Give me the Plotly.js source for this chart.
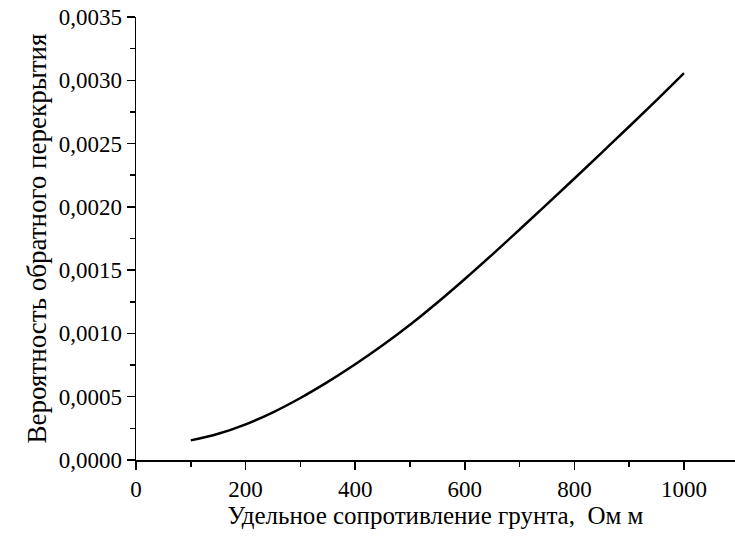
<!DOCTYPE html>
<html>
<head>
<meta charset="utf-8">
<script src="https://cdn.plot.ly/plotly-3.0.1.min.js"></script>
<style>
html,body{margin:0;padding:0;background:#fff;overflow:hidden;}
#chart{position:relative;z-index:1;}
#chart svg text{font-family:"Liberation Serif",serif !important;}
#warm{position:absolute;left:500px;top:300px;z-index:0;font-family:"Liberation Serif";font-size:2px;color:#fff;}
</style>
</head>
<body>
<div id="warm">0,0035 Вероятность</div>
<div id="chart" style="width:735px;height:537px;"></div>
<script>
var resistivity = [100,150,200,250,300,350,400,450,500,550,600,650,700,750,800,850,900,950,1000];
var probability = [0.000155,0.000207,0.000282,0.000377,0.000490,0.000617,0.000756,0.000906,0.001068,0.001244,0.001430,0.001623,0.001821,0.002021,0.002224,0.002429,0.002635,0.002844,0.003056];
var xTickVals = [0,200,400,600,800,1000];
var xTickText = ['0','200','400','600','800','1000'];
var yTickVals = [0,0.0005,0.0010,0.0015,0.0020,0.0025,0.0030,0.0035];
var yTickText = ['0,0000','0,0005','0,0010','0,0015','0,0020','0,0025','0,0030','0,0035'];
var xTitle = 'Удельное сопротивление грунта,  Ом м';
var yTitle = 'Вероятность обратного перекрытия';

var fontFam = 'Liberation Serif';
function draw() {
  var trace = {
    x: resistivity, y: probability, type: 'scatter', mode: 'lines',
    line: {color: '#000', width: 2.5, shape: 'spline'}, showlegend: false, hoverinfo: 'none'
  };
  var layout = {
    width: 735, height: 537,
    margin: {l: 136, r: 0, t: 17, b: 77},
    paper_bgcolor: '#fff', plot_bgcolor: '#fff',
    font: {family: fontFam, color: '#000', size: 23},
    xaxis: {
      range: [0, 1093], showgrid: false, zeroline: false,
      showline: true, linecolor: '#000', linewidth: 1.5,
      ticks: 'outside', ticklen: 8, tickwidth: 1.5, tickcolor: '#000',
      tickvals: xTickVals, ticktext: xTickText,
      minor: {dtick: 100, ticks: 'outside', ticklen: 5, tickwidth: 1.5, tickcolor: '#000', showgrid: false},
      tickfont: {size: 23},
      title: {text: xTitle, font: {size: 25}, standoff: 4}
    },
    yaxis: {
      range: [0, 0.0035], showgrid: false, zeroline: false,
      showline: true, linecolor: '#000', linewidth: 1.5,
      ticks: 'outside', ticklen: 8, tickwidth: 1.5, tickcolor: '#000',
      tickvals: yTickVals, ticktext: yTickText,
      minor: {dtick: 0.00025, ticks: 'outside', ticklen: 5, tickwidth: 1.5, tickcolor: '#000', showgrid: false},
      tickfont: {size: 23},
      title: {text: yTitle, font: {size: 27}, standoff: 4}
    }
  };
  Plotly.newPlot('chart', [trace], layout, {staticPlot: true, displayModeBar: false});
}
var drawn = false;
function once() { if (!drawn) { drawn = true; draw(); } }
if (document.fonts && document.fonts.load) {
  Promise.race([
    document.fonts.load('23px "Liberation Serif"', 'Вероятность 0,0035'),
    new Promise(function(r){ setTimeout(r, 1500); })
  ]).then(once, once);
} else { once(); }
</script>
</body>
</html>
